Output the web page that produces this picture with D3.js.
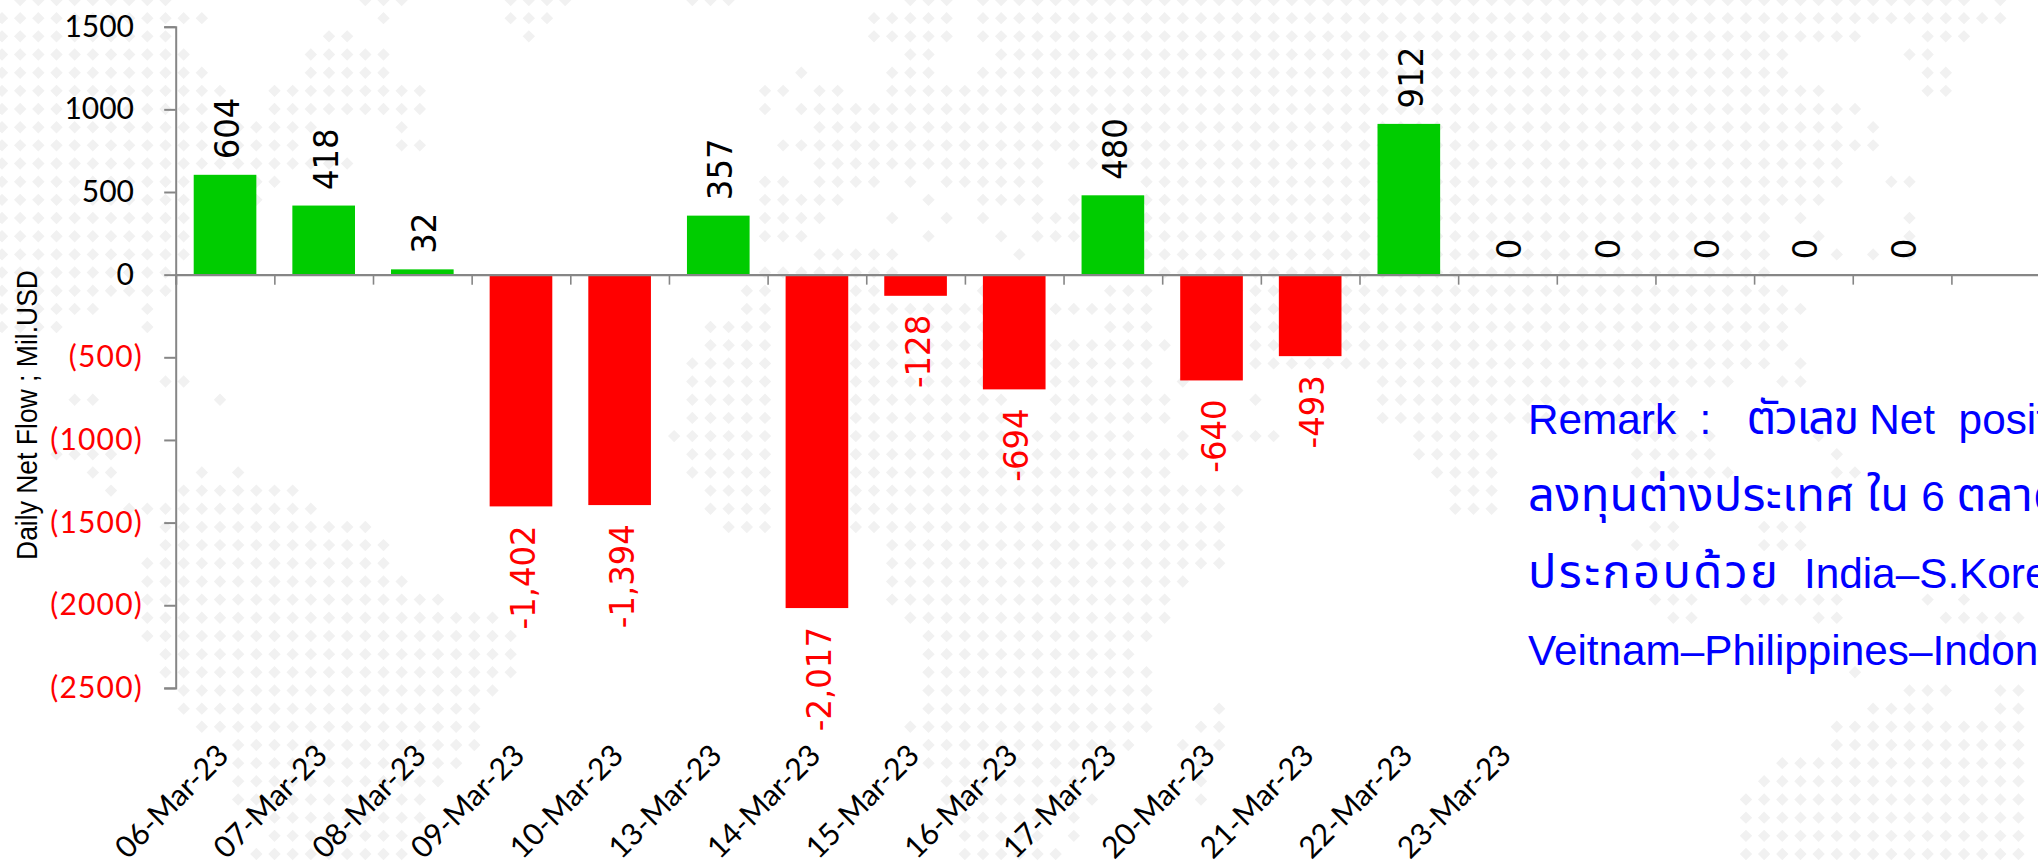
<!DOCTYPE html>
<html><head><meta charset="utf-8">
<script src="https://cdnjs.cloudflare.com/ajax/libs/d3/7.8.5/d3.min.js"></script>
<style>html,body{margin:0;padding:0;background:#fff;overflow:hidden}svg{display:block}</style>
</head><body><svg id="c" width="2038" height="865"></svg>
<script>
const categories = ["06-Mar-23","07-Mar-23","08-Mar-23","09-Mar-23","10-Mar-23","13-Mar-23","14-Mar-23","15-Mar-23","16-Mar-23","17-Mar-23","20-Mar-23","21-Mar-23","22-Mar-23","23-Mar-23","","","","",""];
const netFlow = [604,418,32,-1402,-1394,357,-2017,-128,-694,480,-640,-493,912,0,0,0,0,0,null];
const yTicks = [1500,1000,500,0,-500,-1000,-1500,-2000,-2500];
const yTitle = "Daily Net Flow ; Mil.USD";
const remarkLines = ["Remark  :   ตัวเลข Net  position","ลงทุนต่างประเทศ ใน 6 ตลาด","ประกอบด้วย  India–S.Korea–Taiwan","Veitnam–Philippines–Indonesia"];
// decorative dotted world map: for each grid row, [firstColumn,lastColumn] runs
const mapRows = [
[[1,9],[20,22],[28,31],[38,40],[50,52],[54,108],[110,110]],
[[0,11],[21,21],[28,30],[48,52],[54,110]],
[[0,9],[18,19],[29,29],[48,52],[54,102],[106,108]],
[[0,10],[17,21],[50,51],[55,98],[105,106]],
[[0,11],[17,21],[44,44],[49,51],[54,98],[106,107]],
[[0,12],[15,23],[42,43],[45,46],[49,100],[106,107]],
[[0,11],[15,23],[42,42],[44,102]],
[[0,17],[22,22],[45,101],[103,103]],
[[0,16],[22,23],[43,103]],
[[0,19],[45,57],[59,101]],
[[0,15],[42,43],[45,48],[50,50],[52,57],[63,101],[104,105]],
[[0,14],[42,46],[51,51],[54,57],[59,59],[63,100]],
[[0,13],[42,45],[49,49],[52,52],[54,54],[57,97],[99,99],[105,105]],
[[0,12],[42,44],[51,51],[55,55],[57,97],[100,100],[105,105]],
[[0,11],[45,49],[56,56],[63,97],[101,101],[103,103],[105,105]],
[[0,9],[42,49],[64,97]],
[[0,9],[41,42],[47,48],[54,54],[61,63],[68,98]],
[[0,5],[8,8],[41,42],[47,54],[58,63],[69,99]],
[[0,3],[8,8],[39,42],[47,56],[61,63],[69,98]],
[[39,42],[47,55],[58,64],[69,98]],
[[38,42],[47,55],[57,63],[69,97],[99,99]],
[[9,10],[38,42],[47,55],[58,63],[65,65],[76,95],[98,99]],
[[4,5],[12,12],[38,42],[47,55],[58,64],[69,69],[76,92]],
[[38,42],[47,55],[58,64],[76,92]],
[[37,42],[47,55],[57,62],[65,65],[68,70],[78,82],[90,94],[100,100]],
[[3,6],[38,42],[47,64],[65,65],[78,82],[90,94],[101,101]],
[[5,6],[11,11],[13,13],[38,42],[47,64],[79,82],[90,95],[101,102]],
[[6,6],[10,16],[39,42],[47,68],[80,82]],
[[7,17],[39,42],[47,67],[80,82]],
[[9,20],[40,42],[47,67],[91,92],[97,99]],
[[9,21],[49,67],[90,92],[97,99]],
[[8,21],[49,67],[91,91]],
[[8,22],[49,65]],
[[8,24],[49,64],[91,93],[96,101],[106,106],[108,108]],
[[8,27],[50,64],[92,93],[100,101],[107,111]],
[[8,28],[51,63],[109,110]],
[[9,28],[51,62]],
[[9,28],[51,63],[102,102]],
[[10,27],[51,63],[105,107],[110,111]],
[[10,26],[51,63],[67,67],[103,106],[110,111]],
[[11,26],[50,63],[66,67],[101,111]],
[[13,26],[51,62],[65,65],[67,67],[101,111]],
[[13,25],[51,61],[66,66],[98,111]],
[[13,24],[52,59],[66,66],[97,111]],
[[13,23],[52,60],[66,66],[96,111]],
[[14,23],[53,57],[59,59],[96,111]],
[[15,22],[53,57],[59,59],[96,111]],
[[14,22],[53,58],[96,111]]
];

const svg = d3.select("#c");
const axisColor = "#868686", green = "#00cc00", red = "#ff0000", blue = "#0000ff";
const axisX = 175.7, step = 98.65;

// background map
const gx = d3.scaleLinear().domain([0,110]).range([2,2000.3]);
const gy = d3.scaleLinear().domain([0,47]).range([0,854]);
const dots = mapRows.flatMap((runs,r)=>runs.flatMap(([a,b])=>d3.range(a,b+1).map(c=>[c,r])));
svg.append("g").selectAll("path").data(dots).join("path")
  .attr("d","M0,-6.2L6.2,0L0,6.2L-6.2,0Z")
  .attr("transform",d=>`translate(${gx(d[0])},${gy(d[1])})`)
  .attr("fill","#f1f1f1");

const x = d3.scaleBand().domain(d3.range(categories.length))
  .range([axisX, axisX+step*categories.length]).paddingInner(0.365).paddingOuter(0.1825);
const xEdge = d3.scaleLinear().domain([0,categories.length]).range([axisX, axisX+step*categories.length]);
const y = d3.scaleLinear().domain([1500,-2500]).range([26.7,687.9]);

// bars
const barData = netFlow.map((v,i)=>({v,i})).filter(d=>d.v);
svg.append("g").selectAll("rect").data(barData).join("rect")
  .attr("x",d=>x(d.i)).attr("width",x.bandwidth())
  .attr("y",d=>d.v>0?y(d.v):y(0)).attr("height",d=>Math.abs(y(d.v)-y(0)))
  .attr("fill",d=>d.v>0?green:red);

// y axis
const yAxis = svg.append("g").attr("transform",`translate(${axisX},0)`)
  .call(d3.axisLeft(y).tickValues(yTicks).tickSize(11.5).tickPadding(0).tickFormat(""));
yAxis.selectAll("path,line").attr("stroke",axisColor).attr("stroke-width",2);
svg.append("g").selectAll("text").data(yTicks).join("text")
  .attr("x",d=>d<0?143:134).attr("y",d=>y(d)).attr("dy","0.33em").attr("text-anchor","end")
  .attr("font-family","Lato").attr("font-size",30)
  .attr("letter-spacing",d=>d<0?1.2:0)
  .attr("fill",d=>d<0?red:"#000")
  .text(d=>d<0?`(${-d})`:d);

// x axis: tick marks at band edges
const xAxis = svg.append("g").attr("transform",`translate(0,${y(0)})`)
  .call(d3.axisBottom(xEdge).tickValues(d3.range(1,categories.length)).tickSize(10).tickFormat(""));
xAxis.select("path").attr("stroke",axisColor).attr("stroke-width",2.2);
xAxis.selectAll("line").attr("stroke",axisColor).attr("stroke-width",1.6);

// category labels
svg.append("g").selectAll("text").data(categories).join("text")
  .attr("transform",(d,i)=>`translate(${x(i)+x.bandwidth()/2-9.5},742.5) rotate(-45)`)
  .attr("text-anchor","end").attr("dy","0.7em")
  .attr("font-family","Lato").attr("font-size",30.2).attr("fill","#000")
  .text(d=>d);

// value labels
svg.append("g").selectAll("text").data(netFlow.map((v,i)=>({v,i})).filter(d=>d.v!==null)).join("text")
  .attr("transform",d=>{
    const cx = x(d.i)+x.bandwidth()/2+14;
    const yy = d.v>=0 ? y(d.v)-15.5 : y(d.v)+19;
    return `translate(${cx},${yy}) rotate(-90) scale(0.95,1)`;
  })
  .attr("text-anchor",d=>d.v>=0?"start":"end")
  .attr("font-family","DejaVu Sans").attr("font-size",34)
  .attr("fill",d=>d.v<0?red:"#000")
  .text(d=>d3.format(",")(d.v).replace("−","-"));

// y title
svg.append("text").attr("transform","translate(36.5,560) rotate(-90) scale(1,1.1)")
  .attr("font-family","Liberation Sans").attr("font-size",26.5).attr("fill","#000").text(yTitle);

// remark: Thai runs use the Thai face at a larger size, tracked per line
const thaiTracking = [-1.6,0.3,2.4,0];
const remark = svg.append("g").selectAll("text").data(remarkLines).join("text")
  .attr("x",1528).attr("y",(d,i)=>434+i*77)
  .attr("font-family","'Liberation Sans'").attr("font-size",42.3)
  .attr("fill",blue).style("white-space","pre");
remark.each(function(line,i){
  const t = d3.select(this);
  line.split(/([\u0E00-\u0E7F]+)/).filter(s=>s).forEach(s=>{
    const thai = /[\u0E00-\u0E7F]/.test(s);
    t.append("tspan").attr("font-family",thai?"'Noto Sans Thai'":"'Liberation Sans'")
      .attr("font-size",thai?47:42.3).attr("letter-spacing",thai?thaiTracking[i]:0).text(s);
  });
});
</script></body></html>
